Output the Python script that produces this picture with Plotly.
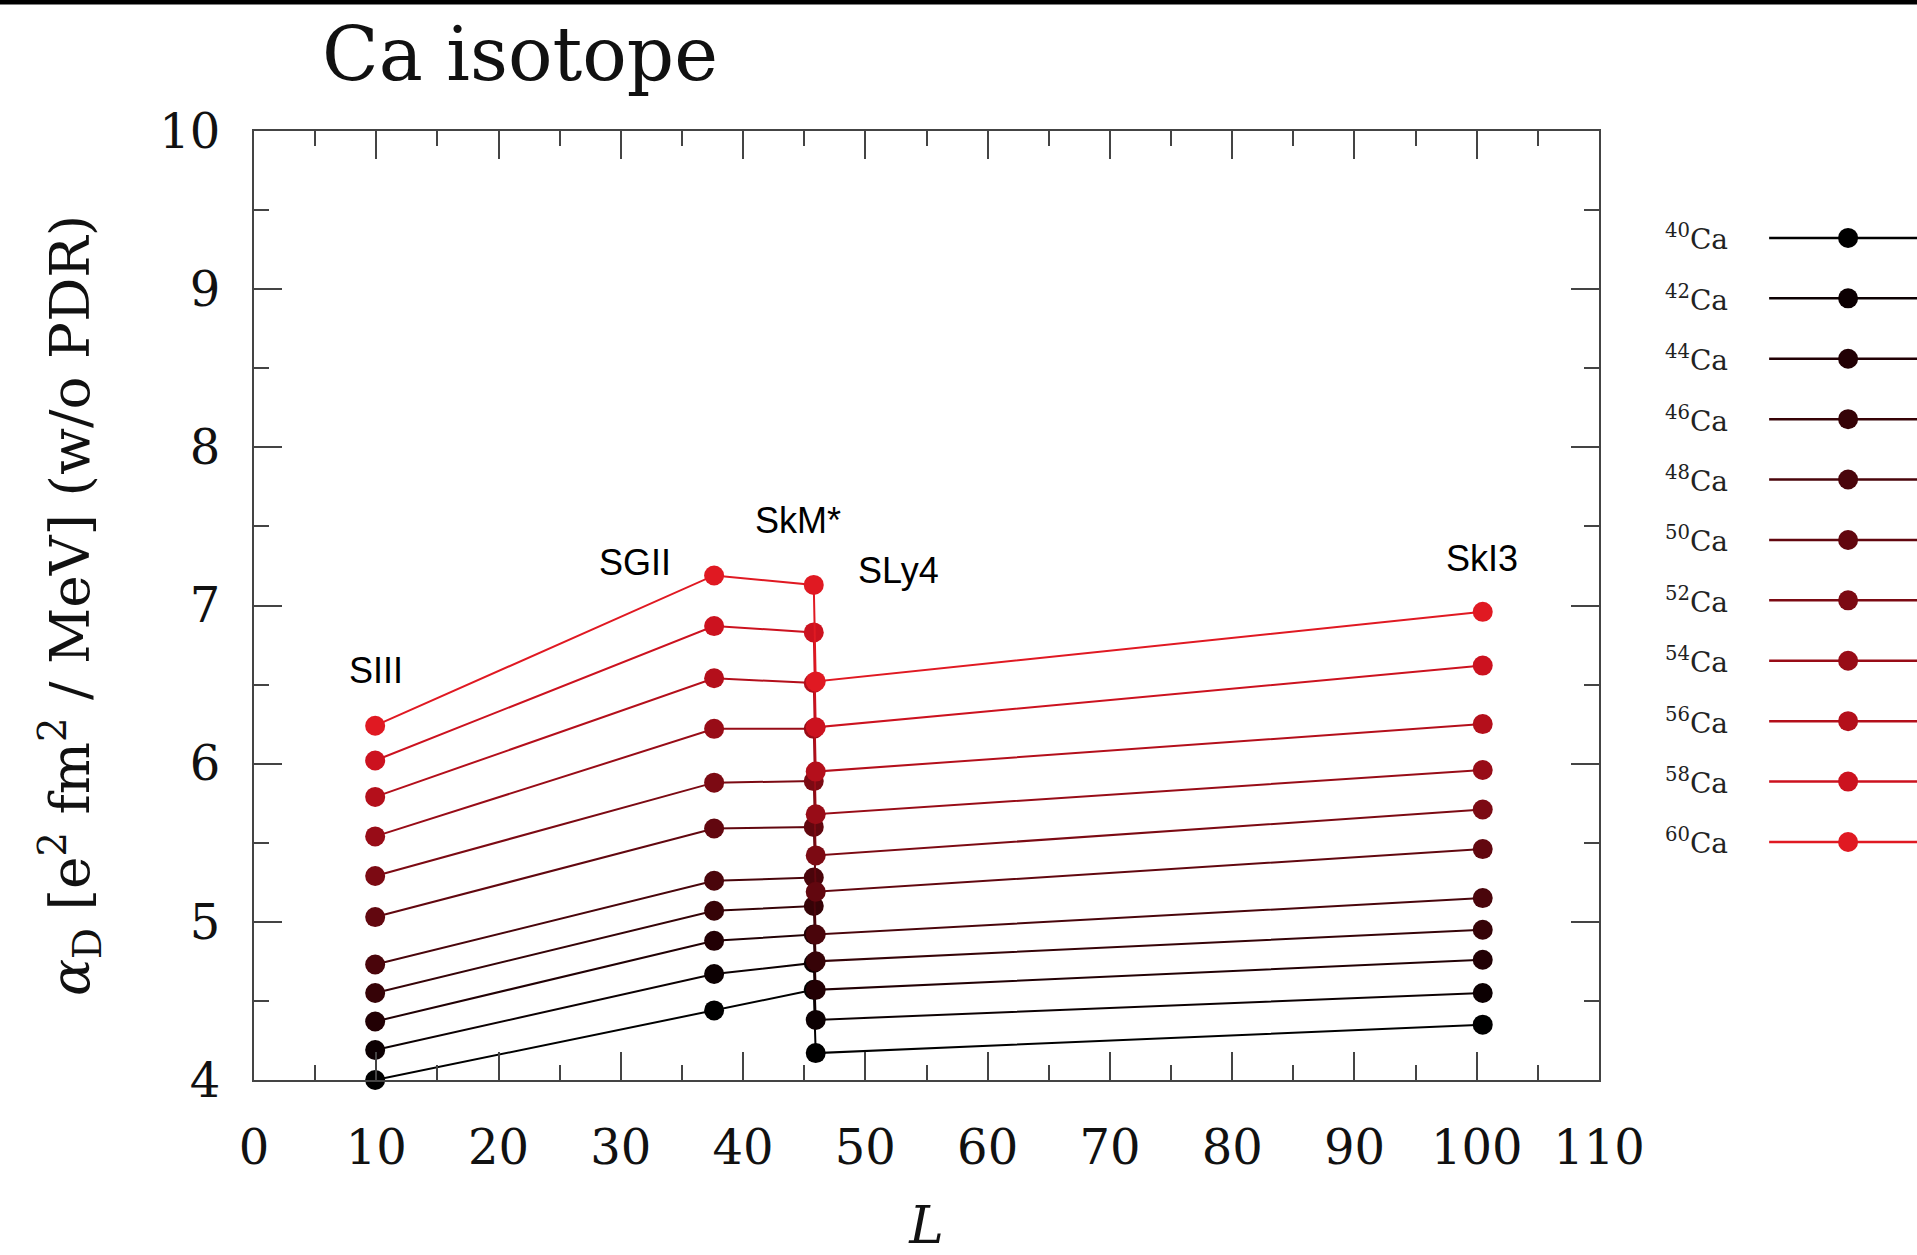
import plotly.graph_objects as go

# Skyrme parametrisations and their symmetry-energy slope L (MeV)
models = ["SIII", "SGII", "SkM*", "SLy4", "SkI3"]
L_values = [9.91, 37.63, 45.78, 45.94, 100.49]

# Mass numbers of the Ca isotopes
mass_numbers = [40, 42, 44, 46, 48, 50, 52, 54, 56, 58, 60]

# Dipole polarizability alpha_D (e^2 fm^2 / MeV, without PDR), one list per isotope,
# ordered as in `models`
alpha_ca40 = [4.00, 4.44, 4.57, 4.17, 4.35]
alpha_ca42 = [4.19, 4.67, 4.74, 4.38, 4.55]
alpha_ca44 = [4.37, 4.88, 4.92, 4.57, 4.76]
alpha_ca46 = [4.55, 5.07, 5.10, 4.75, 4.95]
alpha_ca48 = [4.73, 5.26, 5.28, 4.92, 5.15]
alpha_ca50 = [5.03, 5.59, 5.60, 5.19, 5.46]
alpha_ca52 = [5.29, 5.88, 5.89, 5.42, 5.71]
alpha_ca54 = [5.54, 6.22, 6.22, 5.68, 5.96]
alpha_ca56 = [5.79, 6.54, 6.51, 5.95, 6.25]
alpha_ca58 = [6.02, 6.87, 6.83, 6.23, 6.62]
alpha_ca60 = [6.24, 7.19, 7.13, 6.52, 6.96]

alpha_series = [alpha_ca40, alpha_ca42, alpha_ca44, alpha_ca46, alpha_ca48, alpha_ca50,
                alpha_ca52, alpha_ca54, alpha_ca56, alpha_ca58, alpha_ca60]

# Label positions for the parametrisation names (L, alpha_D)
label_L = [10.0, 31.2, 44.5, 52.7, 100.4]
label_alpha = [6.59, 7.27, 7.54, 7.22, 7.30]

# black -> red colour ramp, light to heavy isotopes
colors = ["#000000", "#0c0002", "#220004", "#360307", "#4a050b", "#62070f",
          "#7c0a13", "#980c17", "#b40f1b", "#cc121f", "#e01922"]

SERIF = "DejaVu Serif, serif"
SANS = "Liberation Sans, Arial, sans-serif"
AXIS_COLOR = "#444444"

fig = go.Figure()

for mass, vals, col in zip(mass_numbers, alpha_series, colors):
    fig.add_trace(go.Scatter(
        x=L_values, y=vals, mode="lines+markers",
        line=dict(color=col, width=2),
        marker=dict(color=col, size=20),
        name=f"{mass}Ca", showlegend=False, cliponaxis=False,
        xaxis="x", yaxis="y",
    ))

# Key drawn on its own small axes: label on the left, line with a dot on the right
for i, (mass, col) in enumerate(zip(mass_numbers, colors)):
    fig.add_trace(go.Scatter(
        x=[0.47, 1.0], y=[i, i], mode="lines",
        line=dict(color=col, width=2.5), showlegend=False,
        hoverinfo="skip", xaxis="x2", yaxis="y2", cliponaxis=False,
    ))
    fig.add_trace(go.Scatter(
        x=[0.753], y=[i], mode="markers",
        marker=dict(color=col, size=20), showlegend=False,
        hoverinfo="skip", xaxis="x2", yaxis="y2", cliponaxis=False,
    ))
    fig.add_annotation(
        x=0.33, y=i, xref="x2", yref="y2", xanchor="right", yanchor="middle",
        text=f"<sup>{mass}</sup>Ca", showarrow=False,
        font=dict(family=SERIF, size=28, color="#222222"),
    )

for name, lx, ly in zip(models, label_L, label_alpha):
    fig.add_annotation(
        x=lx, y=ly, xref="x", yref="y", text=name, showarrow=False,
        font=dict(family=SANS, size=36, color="#000000"),
    )

axis_common = dict(
    showline=True, linecolor=AXIS_COLOR, linewidth=2, mirror="allticks",
    ticks="inside", tickcolor=AXIS_COLOR, tickwidth=1.5,
    showgrid=False, zeroline=False, automargin=False,
    tickfont=dict(family=SERIF, size=48, color="#111111"),
)

main_frac = 1345 / 1663

fig.update_layout(
    width=1917, height=1255,
    paper_bgcolor="white", plot_bgcolor="white",
    margin=dict(l=254, r=0, t=131, b=175, autoexpand=False),
    title=dict(text="Ca isotope", x=520 / 1917, xanchor="center",
               y=1 - 54 / 1255, yanchor="middle",
               font=dict(family=SERIF, size=74, color="#111111")),
    xaxis=dict(
        **axis_common, domain=[0, main_frac], range=[0, 110],
        dtick=10, tick0=0, ticklen=28, ticklabelstandoff=24,
        minor=dict(ticks="inside", dtick=5, tick0=0, ticklen=15,
                   tickcolor=AXIS_COLOR, tickwidth=1.5),
        title=dict(text="<i>L</i>", standoff=38,
                   font=dict(family=SERIF, size=52, color="#111111")),
    ),
    yaxis=dict(
        **axis_common, range=[4, 10], dtick=1, tick0=4, ticklen=28,
        ticklabelstandoff=22,
        minor=dict(ticks="inside", dtick=0.5, tick0=4, ticklen=15,
                   tickcolor=AXIS_COLOR, tickwidth=1.5),
        title=dict(text="<i>α</i><sub>D</sub> [e<sup>2</sup> fm<sup>2</sup> / MeV] (w/o PDR)",
                   standoff=52,
                   font=dict(family=SERIF, size=55, color="#111111")),
    ),
    xaxis2=dict(domain=[(1638 - 254) / 1663, 1], range=[0, 1], visible=False,
                fixedrange=True, automargin=False),
    yaxis2=dict(anchor="x2", domain=[0, 1], range=[13.94, -1.77], visible=False,
                fixedrange=True, automargin=False),
    shapes=[dict(type="line", xref="paper", yref="paper",
                 x0=-0.16, x1=1.01, y0=1 + 129 / 949, y1=1 + 129 / 949,
                 line=dict(color="#000000", width=5))],
)

fig.write_html("out.html")
